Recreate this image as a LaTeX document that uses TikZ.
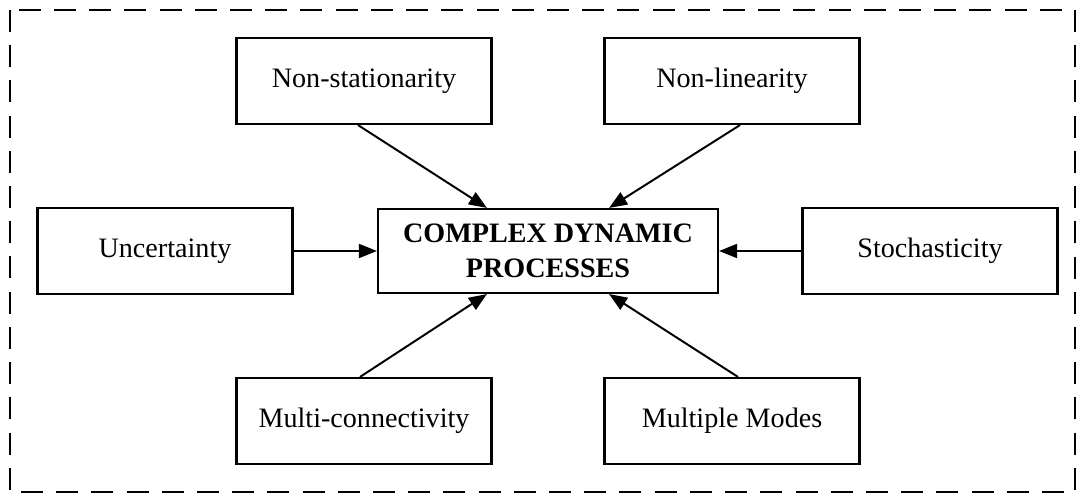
\documentclass[tikz,border=0pt]{standalone}
\usepackage{fontspec}
\setmainfont{Liberation Serif}
\usetikzlibrary{arrows.meta, positioning}

\begin{document}
\begin{tikzpicture}[
    x=0.025cm, y=-0.025cm,
    % Define node styles
    box/.style={rectangle, draw, line width=1.5pt, minimum height=2.15cm, minimum width=6.375cm, align=center, font=\fontsize{20}{24}\selectfont},
    core/.style={box, minimum width=8.5cm, minimum height=2.1cm, font=\fontsize{20}{25}\selectfont\bfseries},
    % Define edge style
    edge/.style={-{Triangle[length=0.45cm, width=0.35cm]}, line width=1.4pt},
    frame/.style={dashed, line width=1.4pt, dash pattern=on 0.55cm off 0.33cm},
]
\useasboundingbox (0,0) rectangle (1079,495);

% Outer dashed frame
\draw[frame] (10,10) rectangle (1075,492);

% Central node
\node[core] (CDP) at (548,251) {COMPLEX DYNAMIC\\PROCESSES};

% Surrounding properties
\node[box] (NonStat) at (364,81) {Non-stationarity};
\node[box] (NonLin) at (732,81) {Non-linearity};
\node[box] (Uncert) at (165,251) {Uncertainty};
\node[box] (Stoch) at (930,251) {Stochasticity};
\node[box] (MultiConn) at (364,421) {Multi-connectivity};
\node[box] (MultiModes) at (732,421) {Multiple Modes};

% Arrows into the central node
\draw[edge] ([xshift=-0.15cm]NonStat.south) -- ([xshift=2.75cm]CDP.north west);
\draw[edge] ([xshift=0.2cm]NonLin.south) -- ([xshift=-2.75cm]CDP.north east);
\draw[edge] (Uncert.east) -- (CDP.west);
\draw[edge] (Stoch.west) -- (CDP.east);
\draw[edge] ([xshift=-0.1cm]MultiConn.north) -- ([xshift=2.75cm]CDP.south west);
\draw[edge] ([xshift=0.15cm]MultiModes.north) -- ([xshift=-2.75cm]CDP.south east);

\end{tikzpicture}
\end{document}
